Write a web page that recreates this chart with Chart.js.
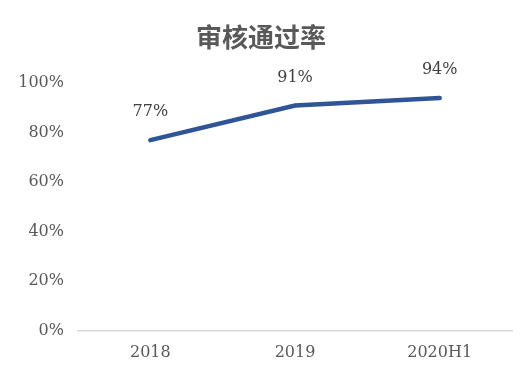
<!DOCTYPE html>
<html>
<head>
<meta charset="utf-8">
<script src="https://cdn.jsdelivr.net/npm/chart.js@4"></script>
<style>
  html, body { margin: 0; padding: 0; background: #fff; }
  #wrap { width: 532px; height: 376px; }
</style>
</head>
<body>
<div id="wrap"><canvas id="chart" width="532" height="376"></canvas></div>
<script>
const categories = ['2018', '2019', '2020H1'];
const passRate = [77, 91, 94];
const yTicks = [0, 20, 40, 60, 80, 100];

const textColor = '#595959';
const serif = "'DejaVu Serif', 'Liberation Serif', serif";

// labels above each point
const valueLabels = {
  id: 'valueLabels',
  afterDatasetsDraw(chart) {
    const ctx = chart.ctx;
    const meta = chart.getDatasetMeta(0);
    ctx.save();
    ctx.font = '16px ' + serif;
    ctx.fillStyle = '#404040';
    ctx.textAlign = 'center';
    ctx.textBaseline = 'middle';
    meta.data.forEach((pt, i) => {
      ctx.fillText(passRate[i] + '%', pt.x, pt.y - 28);
    });
    ctx.restore();
  }
};

new Chart(document.getElementById('chart'), {
  type: 'line',
  data: {
    labels: categories,
    datasets: [{
      data: passRate,
      borderColor: '#2F5597',
      borderWidth: 4.5,
      pointRadius: 0,
      tension: 0,
      borderCapStyle: 'round'
    }]
  },
  options: {
    responsive: false,
    animation: false,
    layout: { padding: { left: 10, right: 20, top: 22, bottom: 2 } },
    plugins: {
      legend: { display: false },
      tooltip: { enabled: false },
      title: {
        display: true,
        text: '审核通过率',
        color: textColor,
        font: { family: "'Noto Sans CJK SC'", size: 26, weight: 'bold' },
        padding: { top: 0, bottom: 30 }
      }
    },
    scales: {
      x: {
        offset: true,
        grid: { display: false, drawTicks: false },
        border: { color: '#d9d9d9', width: 1.5 },
        ticks: { color: textColor, font: { family: serif, size: 16 }, padding: 12 }
      },
      y: {
        min: 0,
        max: 100,
        afterBuildTicks(scale) { scale.ticks = yTicks.map(v => ({ value: v })); },
        afterFit(scale) { scale.width = 68; },
        grid: { display: false, drawTicks: false },
        border: { display: false },
        ticks: {
          color: textColor,
          font: { family: serif, size: 16 },
          padding: 14,
          callback: v => v + '%'
        }
      }
    }
  },
  plugins: [valueLabels]
});
</script>
</body>
</html>
